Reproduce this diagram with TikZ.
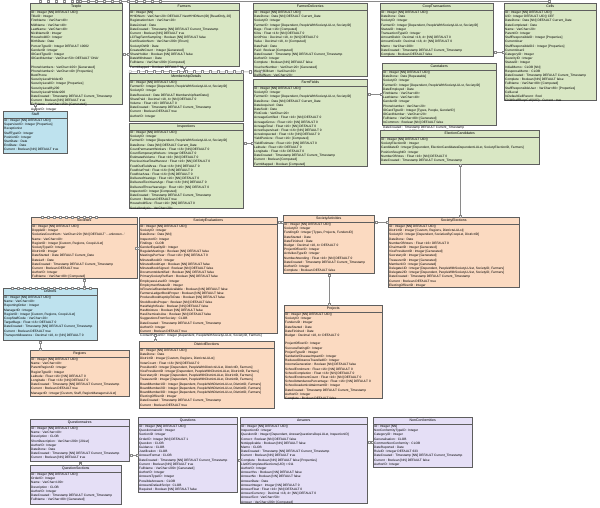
\documentclass[tikz,border=0pt]{standalone}
\usepackage{fontspec}
\setmainfont{Liberation Sans}
\usetikzlibrary{arrows.meta, calc}

\definecolor{grn}{HTML}{D9E7C4}
\definecolor{org}{HTML}{FBDAC1}
\definecolor{blu}{HTML}{BEE2EE}
\definecolor{prp}{HTML}{E5DFF6}
\definecolor{tblline}{HTML}{5E5E5E}
\definecolor{relline}{HTML}{8A8A8A}

\tikzset{
  tbl/.style={draw=tblline, line width=0.5pt, rectangle, anchor=north west, inner sep=0pt},
  ttl/.style={anchor=north, inner sep=0pt, yshift=-1.6pt, font=\fontsize{3.5}{4}\selectfont},
  rows/.style={anchor=north west, inner sep=0pt, align=left, font=\fontsize{3.2}{4.2}\selectfont},
  rel/.style={draw=relline, line width=0.4pt, {Square[fill=white,length=2.4pt,width=2.4pt]}-{Square[fill=white,length=2.4pt,width=2.4pt]}},
  pin/.style={draw=relline, fill=white, rectangle, minimum size=2.4pt, inner sep=0pt, line width=0.3pt}
}

% name, x, y, width, height, colour, title, rows
\newcommand{\dbtable}[8]{%
  \node[tbl, fill=#6, minimum width=#4, minimum height=#5] (#1) at (#2,#3) {};
  \node[ttl] (#1-title) at (#1.north) {#7};
  \draw[tblline, line width=0.4pt] ([yshift=-7pt]#1.north west) -- ([yshift=-7pt]#1.north east);
  \node[rows] (#1-rows) at ([shift={(1pt,-8pt)}]#1.north west) {#8};
}

\begin{document}
\begin{tikzpicture}[x=1pt, y=-1pt]
\fill[white] (0,0) rectangle (600,508);
\useasboundingbox (0,0) rectangle (600,508);

% green block
\dbtable{teeple}{30}{3}{92}{101}{grn}{Teeple}{ID : Integer [NN] DEFAULT UID()\\
TitleID : Integer\\
FirstName : VarChar<40>\\
MidName : VarChar<40>\\
LastName : VarChar<40>\\
NickNameID : Integer\\
HouseholdID : Integer\\
BirthDate : Date\\
PersonTypeID : Integer DEFAULT 10002\\
GenderID : Integer\\
IDCardTypeID : Integer\\
IDCardNumber : VarChar<50> DEFAULT 'DNA'\\
~\\
PhoneNumbers : VarChar<100> [Generated]\\
PhoneNumber2 : VarChar<40> [Properties]\\
BestPhone\\
SecurityLevelHolderID\\
SecurityLevelID : Integer [Properties]\\
SecurityLevelBy200\\
SecurityLevelHolder200\\
DateCreated : Timestamp DEFAULT Current\_Timestamp\\
Current : Boolean [NN] DEFAULT true\\
FullName : VarChar<150> [Generated]\\
AuthorID : Integer}

\dbtable{farmers}{129}{3}{110}{63}{grn}{Farmers}{ID : Integer [NN]\\
HHIDNum : VarChar<20> DEFAULT NextHHIDNum(ID) [ReadOnly, 20]\\
RegistrationNum : VarChar<20>\\
DateJoined : Date\\
DateCreated : Timestamp [NN] DEFAULT Current\_Timestamp\\
Current : Boolean [NN] DEFAULT true\\
LCFlagFarmSampling : Boolean [NN] DEFAULT false\\
CertificationNum : VarChar<200> [Enum]\\
SocietyIDWD : Date\\
CreatedAtCount : Integer [Generated]\\
ShareHolder : Boolean [NN] DEFAULT false\\
DateWithdrawn : Date\\
FullName : VarChar<200> [Computed]\\
FarmMapped : Boolean DEFAULT false}

\dbtable{membership}{129}{73}{114}{48}{grn}{MembershipDetails}{ID : Integer [NN] DEFAULT UID()\\
FarmerID : Integer [Dependent, PeopleWithSocietyLULst, SocietyID]\\
SocietyID : Integer\\
DateReceived : Date DEFAULT MembershipStartDate()\\
SharePaid : Decimal <18, 4> [NN] DEFAULT 0\\
Volume : Float <16> DEFAULT 0\\
DateCreated : Timestamp DEFAULT Current\_Timestamp\\
Current : Boolean DEFAULT true\\
AuthorID : Integer}

\dbtable{inspections}{129}{123}{114}{85}{grn}{Inspections}{ID : Integer [NN] DEFAULT UID()\\
SocietyID : Integer\\
FarmerID : Integer [Dependent, PeopleWithSocietyLULst, SocietyID]\\
DateDone : Date [NN] DEFAULT Current\_Date\\
CountPermanentWorkers : Float <16> [NN] DEFAULT 0\\
CountTemporaryWorkers : Integer DEFAULT 0\\
EstimatedVolume : Float <16> [NN] DEFAULT 0\\
PreviousYearTotalHarvest : Float <16> [NN] DEFAULT 0\\
FoodOutFieldArea : Float <16> [NN] DEFAULT 0\\
FoodNurProd : Float <16> [NN] DEFAULT 0\\
FoodNurArea : Float <16> [NN] DEFAULT 0\\
DeliveredYearAgo : Float <16> [NN] DEFAULT 0\\
DeliveredTwoYearsAgo : Float <16> [NN] DEFAULT 0\\
DeliveredThreeYearsAgo : Float <16> [NN] DEFAULT 0\\
InspectorID : Integer [Computed]\\
DateCreated : Timestamp DEFAULT Current\_Timestamp\\
Current : Boolean DEFAULT true\\
HouseholdSize : Float <16> [NN] DEFAULT 0\\
SocialAnalysis : VarChar<20>}

\dbtable{farmdel}{253}{3}{114}{73}{grn}{FarmerDeliveries}{ID : Integer [NN] DEFAULT UID()\\
DateDone : Date [NN] DEFAULT Current\_Date\\
SocietyID : Integer\\
FarmerID : Integer [Dependent, PeopleWithSocietyLULst, SocietyID]\\
Bags : Float <16> [Computed]\\
Kilos : Float <16> [NN] DEFAULT 0\\
UnitPrice : Decimal <18, 4> [NN] DEFAULT 0\\
Value : Decimal <18, 4> [Computed]\\
DatePaid : Date\\
Paid : Boolean [Computed]\\
DateCreated : Timestamp [NN] DEFAULT Current\_Timestamp\\
AuthorID : Integer\\
Complete : Boolean [NN] DEFAULT false\\
VoucherNumber : VarChar<20> [Generated]\\
WeighBillNum : VarChar<20>\\
DelRefNum : VarChar<20>}

\dbtable{farmfields}{253}{79}{114}{87}{grn}{FarmFields}{ID : Integer [NN] DEFAULT UID()\\
SocietyID : Integer\\
FarmerID : Integer [Dependent, PeopleWithSocietyLULst, SocietyID]\\
DateDone : Date [NN] DEFAULT Current\_Date\\
DateAcquired : Date\\
DateSold : Date\\
PlotCode : VarChar<20>\\
AcreageCertified : Float <16> [NN] DEFAULT 0\\
AcreageGross : Float <16> [NN] DEFAULT 0\\
AcreageTotal : Float <16> [NN] DEFAULT 0\\
AcresSupervised : Float <16> [NN] DEFAULT 0\\
AcresInspected : Float <16> [NN] DEFAULT 0\\
YieldPerAcre : Float <16> [Computed]\\
YieldEstimate : Float <16> [NN] DEFAULT 0\\
Latitude : Float <16> DEFAULT 0\\
Longitude : Float <16> DEFAULT 0\\
DateCreated : Timestamp DEFAULT Current\_Timestamp\\
Current : Boolean [Computed]\\
FarmMapped : Boolean [Computed]}

\dbtable{coop}{380}{3}{113}{53}{grn}{CoopTransactions}{ID : Integer [NN] DEFAULT UID()\\
DateDone : Date\\
SocietyID : Integer\\
FarmerID : Integer [Dependent, PeopleWithSocietyLULst, SocietyID]\\
StatusID : Integer\\
TransactionTypeID : Integer\\
AmountDebit : Decimal <18, 4> [NN] DEFAULT 0\\
AmountCredit : Decimal <18, 4> [NN] DEFAULT 0\\
Memo : VarChar<200>\\
DateCreated : Timestamp DEFAULT Current\_Timestamp\\
Complete : Boolean DEFAULT false}

\dbtable{caretakers}{382}{63}{114}{62}{grn}{Caretakers}{ID : Integer [NN] DEFAULT UID()\\
DateDone : Date [Repeatable]\\
SocietyID : Integer\\
FarmerID : Integer [Dependent, PeopleWithSocietyLULst, SocietyID]\\
DateEmployed : Date\\
FirstName : VarChar<40>\\
LastName : VarChar<40>\\
GenderID : Integer\\
PhoneNumber : VarChar<20>\\
IDCardTypeID : Integer [Types, People, GenderID]\\
IDCardNumber : VarChar<20>\\
FullName : VarChar<80> [Generated]\\
IsCommon : Boolean [NN] DEFAULT false\\
DateCreated : Timestamp DEFAULT Current\_Timestamp\\
Current : Boolean DEFAULT true}

\dbtable{elcand}{380}{130}{159}{34}{grn}{ElectionCandidates}{ID : Integer [NN] DEFAULT UID()\\
SocietyElectionID : Integer\\
CandidateID : Integer [Dependent, ElectionCandidatesDependentLULst, SocietyElectionID, Farmers]\\
PositionSoughtID : Integer\\
NumberOfVotes : Float <16> [NN] DEFAULT 0\\
DateCreated : Timestamp DEFAULT Current\_Timestamp}

\dbtable{cells}{504}{3}{92}{97}{grn}{Cells}{ID : Integer [NN] DEFAULT UID()\\
UID : Integer DEFAULT UID() CEF\\
DateDone : Date [NN] DEFAULT Current\_Date\\
DateCompleted : Date\\
Name : VarChar<20>\\
ParentID : Integer\\
StaffResponsibleID : Integer [Properties]\\
CurrentUser\\
StaffResponsibleID2 : Integer [Properties]\\
CurrentUser2\\
CategoryID : Integer\\
SeverityID : Integer\\
StatusID : Integer\\
InitialMemo : CLOB [NN]\\
ResponseMemo : CLOB\\
DateCreated : Timestamp DEFAULT Current\_Timestamp\\
Complete : Boolean [NN] DEFAULT false\\
FullName : VarChar<80> [Computed]\\
StaffResponsibleUser : VarChar<80> [Properties]\\
CellLevel\\
IsDefaultCellParent : Bool\\
ChildStaffRespCell(UID) : Current : true}

% blue block
\dbtable{staff}{3}{111}{64}{42}{blu}{Staff}{ID : Integer [NN] DEFAULT UID()\\
SupervisorID : Integer [Properties]\\
Receptionist\\
StaffTypeID : Integer\\
PositionID : Integer\\
StartDate : Date\\
EndDate : Date\\
Current : Boolean [NN] DEFAULT true}

\dbtable{districts}{3}{288}{94}{52}{blu}{Districts}{ID : Integer [NN] DEFAULT UID()\\
Name : VarChar<40>\\
ReportingOrder : Integer\\
ManagerID : Integer\\
RegionID : Integer [Custom, Regions, CoopLULst]\\
CoopStaffCode : VarChar<20>\\
TargetBags : Float <16> DEFAULT 0\\
DateCreated : Timestamp [NN] DEFAULT Current\_Timestamp\\
Current : Boolean DEFAULT true\\
TransportAllowance : Decimal <18, 4> [NN] DEFAULT 0}

% orange block
\dbtable{societies}{31}{217}{106}{61}{org}{Societies}{ID : Integer [NN] DEFAULT UID()\\
DoppleID : Integer\\
SocietiesCountNum : VarChar<20> [NN] DEFAULT '...unknown...'\\
Name : VarChar<40>\\
RegionID : Integer [Custom, Regions, CoopLULst]\\
SocietyTypeID : Integer\\
DistrictID : Integer\\
DateStarted : Date DEFAULT Current\_Date\\
DateLeft : Date\\
DateCreated : Timestamp DEFAULT Current\_Timestamp\\
Current : Boolean DEFAULT true\\
AuthorID : Integer\\
FullName : VarChar<80> [Computed]}

\dbtable{soceval}{139}{217}{138}{116}{org}{SocietyEvaluations}{ID : Integer [NN] DEFAULT UID()\\
SocietyID : Integer\\
DateDone : Date [NN]\\
InspectorID : Integer\\
Findings : CLOB\\
GenderEqualityID : Integer\\
RegularMeetings : Boolean [NN] DEFAULT false\\
MeetingsPerYear : Float <16> [NN] DEFAULT 0\\
MinutesBookID : Integer\\
MinutesBookKept : Boolean [NN] DEFAULT false\\
MinutesBookSigned : Boolean [NN] DEFAULT false\\
DocumentsIdentified : Boolean [NN] DEFAULT false\\
PrimarySocietyRefSent : Boolean [NN] DEFAULT false\\
EmployeesLevelID : Integer\\
EmploymentStatusID : Integer\\
IsFinancialStandardsAvailable : Boolean [NN] DEFAULT false\\
FarmersLedgerBookProper : Boolean [NN] DEFAULT false\\
ProduceBookKeptUpToDate : Boolean [NN] DEFAULT false\\
StockBookIsProper : Boolean [NN] DEFAULT false\\
HasWeightScale : Boolean [NN] DEFAULT false\\
HasMoisture : Boolean [NN] DEFAULT false\\
HasChemicalsUse : Boolean [NN] DEFAULT false\\
SuggestionsFromSociety : CLOB\\
DateCreated : Timestamp DEFAULT Current\_Timestamp\\
AuthorID : Integer\\
Current : Boolean DEFAULT true\\
ContactPersonID : Integer [Dependent, PeopleWithSocietyLULst, SocietyID, Farmers]}

\dbtable{socact}{283}{215}{91}{58}{org}{SocietyActivities}{ID : Integer [NN] DEFAULT UID()\\
SocietyID : Integer\\
FundingID : Integer [Types, Projects, FundersID]\\
DateStarted : Date\\
DateFinished : Date\\
Budget : Decimal <18, 4> DEFAULT 0\\
ProjectOfficerID : Integer\\
ActivitiesTypeID : Integer\\
NumberAttending : Float <16> [NN] DEFAULT 0\\
DateCreated : Timestamp DEFAULT Current\_Timestamp\\
AuthorID : Integer\\
Complete : Boolean DEFAULT false}

\dbtable{socelec}{388}{217}{131}{70}{org}{SocietyElections}{ID : Integer [NN] DEFAULT UID()\\
DistrictID : Integer [Custom, Regions, DistrictsLULst]\\
SocietyID : Integer [Dependent, SocietiesByCoopLst, DistrictID]\\
DateDone : Date\\
NumberOfVoters : Float <16> DEFAULT 0\\
ChairmanID : Integer [Generated]\\
VicePresidentID : Integer [Generated]\\
SecretaryID : Integer [Generated]\\
TreasurerID : Integer [Generated]\\
Member1ID : Integer [Generated]\\
Delegate1ID : Integer [Dependent, PeopleWithSocietyLULst, SocietyID, Farmers]\\
Delegate2ID : Integer [Dependent, PeopleWithSocietyLULst, SocietyID, Farmers]\\
DateCreated : Timestamp DEFAULT Current\_Timestamp\\
Current : Boolean DEFAULT true\\
ElectingOfficerID : Integer}

\dbtable{projects}{284}{305}{98}{93}{org}{Projects}{ID : Integer [NN] DEFAULT UID()\\
SocietyID : Integer\\
FundersID : Integer\\
DateStarted : Date\\
DateFinished : Date\\
Budget : Decimal <18, 4> DEFAULT 0\\
~\\
ProjectOfficerID : Integer\\
SuccessRatingID : Integer\\
ProjectTypeID : Integer\\
SanitationDiseaseImpactID : Integer\\
ReducedDistanceTravelledID : Integer\\
IncomeGeneration : Boolean [NN] DEFAULT false\\
SchoolEnrolment : Float <16> [NN] DEFAULT 0\\
SchoolCompletion : Float <16> [NN] DEFAULT 0\\
SchoolEnrolmentCount : Float <16> [NN] DEFAULT 0\\
SchoolAttendancePercentage : Float <16> [NN] DEFAULT 0\\
SchoolAcademicAttainmentID : Integer\\
DateCreated : Timestamp DEFAULT Current\_Timestamp\\
AuthorID : Integer\\
Complete : Boolean DEFAULT false}

\dbtable{regions}{30}{350}{99}{46}{org}{Regions}{ID : Integer [NN] DEFAULT UID()\\
Name : VarChar<40>\\
ParentRegionID : Integer\\
RegionTypeID : Integer\\
Latitude : Float <16> [NN] DEFAULT 0\\
Longitude : Float <16> [NN] DEFAULT 0\\
DateCreated : Timestamp [NN] DEFAULT Current\_Timestamp\\
Current : Boolean DEFAULT true\\
ManagerID : Integer [Custom, Staff, RegionManagersLULst]}

\dbtable{distelec}{139}{341}{135}{67}{org}{DistrictElections}{ID : Integer [NN] DEFAULT UID()\\
DateDone : Date\\
DistrictID : Integer [Custom, Regions, DistrictsLULst]\\
VoterCount : Float <16> [NN] DEFAULT 0\\
PresidentID : Integer [Dependent, PeopleWithDistrictLULst, DistrictID, Farmers]\\
VicePresidentID : Integer [Dependent, PeopleWithDistrictLULst, DistrictID, Farmers]\\
SecretaryID : Integer [Dependent, PeopleWithDistrictLULst, DistrictID, Farmers]\\
TreasurerID : Integer [Dependent, PeopleWithDistrictLULst, DistrictID, Farmers]\\
BoardMember1ID : Integer [Dependent, PeopleWithDistrictLULst, DistrictID, Farmers]\\
BoardMember2ID : Integer [Dependent, PeopleWithDistrictLULst, DistrictID, Farmers]\\
BoardMember3ID : Integer [Dependent, PeopleWithDistrictLULst, DistrictID, Farmers]\\
ElectingOfficerID : Integer\\
DateCreated : Timestamp DEFAULT Current\_Timestamp\\
Current : Boolean DEFAULT true}

% purple block
\dbtable{qnaires}{30}{419}{99}{42}{prp}{Questionnaires}{ID : Integer [NN] DEFAULT UID()\\
Name : VarChar<40>\\
Description : CLOB\\
ShortDescription : VarChar<200> [20Lst]\\
AuthorID : Integer\\
DateDone : Date\\
DateCreated : Timestamp [NN] DEFAULT Current\_Timestamp\\
Current : Boolean [NN] DEFAULT true}

\dbtable{qsections}{30}{465}{91}{39}{prp}{QuestionSections}{ID : Integer [NN] DEFAULT UID()\\
OrderID : Integer\\
Name : VarChar<100>\\
Description : CLOB\\
AuthorID : Integer\\
DateCreated : Timestamp DEFAULT Current\_Timestamp\\
FullName : VarChar<80> [Generated]}

\dbtable{questions}{138}{417}{99}{75}{prp}{Questions}{ID : Integer [NN] DEFAULT UID()\\
QuestionnaireID : Integer\\
SectionID : Integer\\
OrderID : Integer [NN] DEFAULT 1\\
Question : CLOB\\
Guidance : CLOB\\
Justification : CLOB\\
AnswerFormat : CLOB\\
DateCreated : Timestamp [NN] DEFAULT Current\_Timestamp\\
Current : Boolean [NN] DEFAULT true\\
FullName : VarChar<200> [Generated]\\
AuthorID : Integer\\
AnswersTypeID : Integer\\
PossibleAnswers : CLOB\\
AnswersDefaultScript : CLOB\\
Required : Boolean [NN] DEFAULT false}

\dbtable{answers}{240}{417}{127}{86}{prp}{Answers}{ID : Integer [NN] DEFAULT UID()\\
InspectionID : Integer\\
QuestionID : Integer [Dependent, AnswerQuestionsDepLULst, InspectionID]\\
Correct : Boolean [NN] DEFAULT false\\
NotApplicable : Boolean [NN] DEFAULT false\\
Memo : CLOB\\
DateCreated : Timestamp [NN] DEFAULT Current\_Timestamp\\
Current : Boolean [NN] DEFAULT true\\
Complete : Boolean [NN] DEFAULT false [Properties]\\
ListOfCompletedSections(UID) = 011\\
AuthorID : Integer\\
AnswerYes : Boolean [NN] DEFAULT false\\
AnswerNo : Boolean [NN] DEFAULT false\\
AnswerDate : Date\\
AnswerInteger : Integer [NN] DEFAULT 0\\
AnswerFloat : Float <16> [NN] DEFAULT 0\\
AnswerCurrency : Decimal <18, 4> [NN] DEFAULT 0\\
AnswerText : VarChar<50>\\
Answer : VarChar<200> [Computed]}

\dbtable{noncon}{373}{417}{99}{50}{prp}{NonConformities}{ID : Integer [NN]\\
NonConformityTypeID : Integer\\
CategoryID : Integer\\
Generalisation : CLOB\\
CommonNonConformity : CLOB\\
DateReported : Date\\
RuleID : Integer DEFAULT 633\\
DateCreated : Timestamp [NN] DEFAULT Current\_Timestamp\\
Current : Boolean [NN] DEFAULT false\\
AuthorID : Integer}

% relationships
\draw[rel] ([yshift=2pt]teeple.north) -- ([yshift=2pt]cells.north);
\draw[rel] ([yshift=1.5pt]membership.north west) -- ([shift={(10pt,4.5pt)}]farmdel.south west);
\draw[rel] (teeple.east) -- (teeple.east -| farmers.west);
\draw[rel] (staff.north) -- (staff.north |- teeple.south);
\draw[rel] (farmers.south) -- (farmers.south |- membership.north);
\coordinate (ff) at ($(farmfields.west)+(0,20)$);
\draw[rel] (ff) -- (ff -| inspections.east);
\draw[rel] (cells.west) -- (cells.west -| coop.east);
\draw[rel] (caretakers.west) -- (caretakers.west -| farmfields.east);
\draw[rel] (elcand.south) -- (elcand.south |- socelec.north);
\draw[rel] (societies.east) -- (societies.east -| soceval.west);
\coordinate (sa) at ($(socact.north west)+(0,7)$);
\draw[rel] (sa) -- (sa -| soceval.east);
\coordinate (se) at ($(socelec.north west)+(0,5)$);
\draw[rel] (se) -- (se -| socact.east);
\coordinate (sd) at ($(soceval.south west)+(16,0)$);
\draw[rel] (sd) -- (sd |- distelec.north);
\draw[rel] (societies.south) -- (societies.south |- districts.north);
\coordinate (dr) at ($(regions.north west)+(10,0)$);
\draw[rel] (dr) -- (dr |- districts.south);
\draw[rel] (socact.south) -- (socact.south |- projects.north);
\draw[rel] (qnaires.south) -- (qnaires.south |- qsections.north);
\draw[rel] (questions.west) -- (questions.west -| qnaires.east);
\draw[rel] (answers.west) -- (answers.west -| questions.east);
\draw[rel] (noncon.west) -- (noncon.west -| answers.east);

% relationship ends stacked on the edges
\foreach \px [count=\i] in {40,48,...,160} \node[pin] (toppin\i) at (\px,1) {};
\foreach \px [count=\i] in {138,146,...,250} \node[pin] (mempin\i) at (\px,71.5) {};
\foreach \px [count=\i] in {42,48,...,96} \node[pin] (socpin\i) at (\px,217) {};
\foreach \px [count=\i] in {12,18,...,94} \node[pin] (dispin\i) at (\px,288) {};
\end{tikzpicture}
\end{document}
